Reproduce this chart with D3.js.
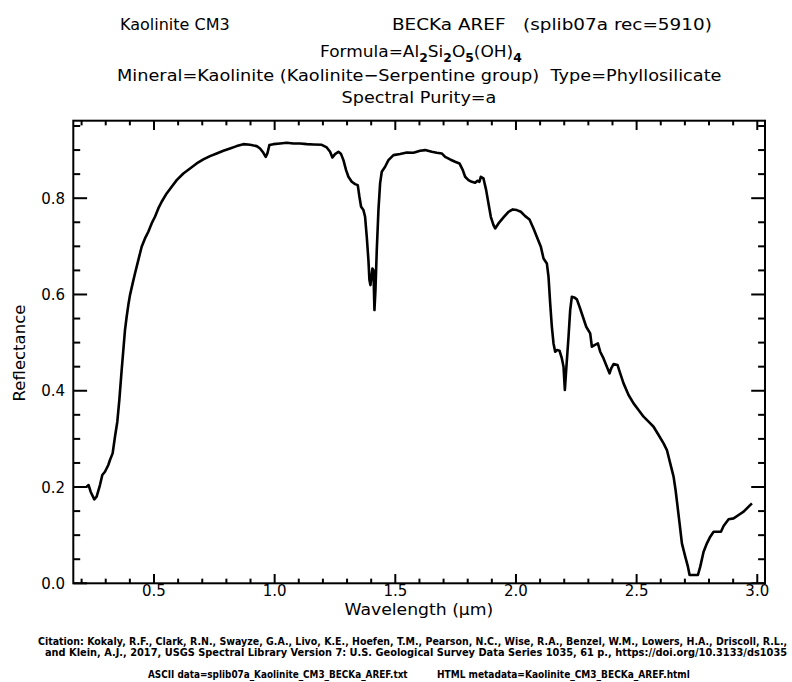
<!DOCTYPE html>
<html>
<head>
<meta charset="utf-8">
<script src="https://cdn.jsdelivr.net/npm/d3@7"></script>
<style>
  html, body { margin: 0; padding: 0; background: #fff; }
  svg { display: block; }
  text { font-family: "DejaVu Sans", sans-serif; fill: #000; }
</style>
</head>
<body>
<svg id="chart" width="792" height="682"></svg>
<script>
// ---- Data ----
const wavelength = [
  0.2208, 0.2291, 0.2374, 0.2526, 0.2623, 0.2761, 0.2858, 0.2968, 0.3107, 0.3176,
  0.3286, 0.3383, 0.3480, 0.3563, 0.3660, 0.3729, 0.3798, 0.3867, 0.3936, 0.4005,
  0.4116, 0.4212, 0.4350, 0.4489, 0.4627, 0.4765, 0.4903, 0.5041, 0.5180, 0.5318,
  0.5525, 0.5733, 0.5940, 0.6216, 0.6493, 0.6769, 0.7045, 0.7322, 0.7598, 0.7875,
  0.8151, 0.8427, 0.8704, 0.8980, 0.9257, 0.9395, 0.9533, 0.9630, 0.9699, 0.9782,
  0.9948, 1.0224, 1.0500, 1.0777, 1.1053, 1.1330, 1.1606, 1.1952, 1.2159, 1.2297,
  1.2394, 1.2504, 1.2642, 1.2753, 1.2850, 1.2960, 1.3057, 1.3195, 1.3333, 1.3444,
  1.3513, 1.3582, 1.3679, 1.3748, 1.3817, 1.3886, 1.3928, 1.3969, 1.4011, 1.4052,
  1.4094, 1.4135, 1.4177, 1.4232, 1.4301, 1.4370, 1.4439, 1.4577, 1.4715, 1.4923,
  1.5199, 1.5476, 1.5752, 1.6028, 1.6236, 1.6512, 1.6719, 1.6927, 1.7065, 1.7272,
  1.7479, 1.7659, 1.7797, 1.7894, 1.8032, 1.8170, 1.8309, 1.8405, 1.8488, 1.8543,
  1.8654, 1.8765, 1.8861, 1.8958, 1.9069, 1.9138, 1.9276, 1.9483, 1.9690, 1.9870,
  2.0036, 2.0202, 2.0382, 2.0561, 2.0727, 2.0893, 2.1031, 2.1142, 2.1280, 2.1349,
  2.1418, 2.1487, 2.1556, 2.1625, 2.1694, 2.1805, 2.1902, 2.1971, 2.2026, 2.2081,
  2.2178, 2.2247, 2.2316, 2.2413, 2.2524, 2.2634, 2.2773, 2.2911, 2.3076, 2.3146,
  2.3256, 2.3394, 2.3491, 2.3629, 2.3767, 2.3878, 2.3947, 2.4044, 2.4210, 2.4320,
  2.4458, 2.4666, 2.4873, 2.5080, 2.5288, 2.5495, 2.5702, 2.5910, 2.6117, 2.6255,
  2.6393, 2.6531, 2.6614, 2.6697, 2.6780, 2.6877, 2.7015, 2.7126, 2.7195, 2.7361,
  2.7540, 2.7637, 2.7775, 2.7913, 2.8052, 2.8190, 2.8356, 2.8494, 2.8604, 2.8812,
  2.9019, 2.9226, 2.9434, 2.9641, 2.9779
];
const reflectance = [
  0.2007, 0.2041, 0.1903, 0.1744, 0.1799, 0.2041, 0.2249, 0.2318, 0.2457, 0.2561,
  0.2699, 0.3045, 0.3357, 0.3807, 0.4430, 0.4845, 0.5261, 0.5537, 0.5780, 0.5987,
  0.6230, 0.6437, 0.6714, 0.6991, 0.7164, 0.7303, 0.7476, 0.7614, 0.7787, 0.7926,
  0.8099, 0.8237, 0.8376, 0.8514, 0.8618, 0.8722, 0.8805, 0.8874, 0.8930, 0.8985,
  0.9033, 0.9082, 0.9123, 0.9109, 0.9082, 0.9033, 0.8943, 0.8860, 0.8930, 0.9103,
  0.9123, 0.9137, 0.9151, 0.9137, 0.9137, 0.9123, 0.9116, 0.9109, 0.9054, 0.8964,
  0.8847, 0.8916, 0.8964, 0.8916, 0.8791, 0.8583, 0.8445, 0.8341, 0.8293, 0.8272,
  0.8030, 0.7822, 0.7753, 0.7614, 0.7199, 0.6714, 0.6299, 0.6195, 0.6368, 0.6541,
  0.6507, 0.5676, 0.6091, 0.6922, 0.7753, 0.8307, 0.8549, 0.8653, 0.8791, 0.8895,
  0.8920, 0.8950, 0.8944, 0.8985, 0.8999, 0.8964, 0.8944, 0.8930, 0.8860, 0.8805,
  0.8757, 0.8722, 0.8584, 0.8445, 0.8376, 0.8341, 0.8320, 0.8362, 0.8341, 0.8445,
  0.8410, 0.8168, 0.7891, 0.7614, 0.7441, 0.7372, 0.7476, 0.7600, 0.7718, 0.7767,
  0.7753, 0.7718, 0.7628, 0.7559, 0.7372, 0.7164, 0.6991, 0.6749, 0.6645, 0.6368,
  0.5814, 0.5330, 0.4984, 0.4811, 0.4845, 0.4831, 0.4672, 0.4499, 0.4015, 0.4430,
  0.5122, 0.5676, 0.5953, 0.5939, 0.5898, 0.5745, 0.5538, 0.5330, 0.5191, 0.4914,
  0.4949, 0.4984, 0.4811, 0.4672, 0.4499, 0.4361, 0.4465, 0.4555, 0.4534, 0.4361,
  0.4153, 0.3911, 0.3738, 0.3599, 0.3461, 0.3357, 0.3253, 0.3080, 0.2907, 0.2768,
  0.2492, 0.2215, 0.1938, 0.1592, 0.1246, 0.0830, 0.0553, 0.0346, 0.0172, 0.0172,
  0.0172, 0.0346, 0.0657, 0.0830, 0.0969, 0.1072, 0.1072, 0.1072, 0.1190, 0.1329,
  0.1349, 0.1419, 0.1488, 0.1592, 0.1661
];
const xTickLabels = ["0.5", "1.0", "1.5", "2.0", "2.5", "3.0"];
const yTickLabels = ["0.0", "0.2", "0.4", "0.6", "0.8"];
const xMinorTicks = [0.2,0.3,0.4,0.6,0.7,0.8,0.9,1.1,1.2,1.3,1.4,1.6,1.7,1.8,1.9,2.1,2.2,2.3,2.4,2.6,2.7,2.8,2.9];
const yMinorTicks = [0.05,0.1,0.15,0.25,0.3,0.35,0.45,0.5,0.55,0.65,0.7,0.75,0.85,0.9,0.95];
const xDomain = [0.1656, 3.032];
const yDomain = [0, 0.961];

// ---- Layout ----
const L = 73.3, R = 765, T = 120.7, B = 583.3;
const svg = d3.select("#chart");
const x = d3.scaleLinear().domain(xDomain).range([L, R]);
const y = d3.scaleLinear().domain(yDomain).range([B, T]);

const xMajor = xTickLabels.map(Number);
const yMajor = yTickLabels.map(Number);
const xLenMaj = 9.3, yLenMaj = 13.8;

// ticks (inward, on all four sides)
const tickG = svg.append("g").attr("stroke", "#000").attr("stroke-width", 2);
const xTicks = xMajor.map(v => ({v, len: xLenMaj})).concat(xMinorTicks.map(v => ({v, len: xLenMaj / 2})));
const yTicks = yMajor.map(v => ({v, len: yLenMaj})).concat(yMinorTicks.map(v => ({v, len: yLenMaj / 2})));
tickG.selectAll("line.xb").data(xTicks).join("line").attr("class", "xb")
  .attr("x1", d => x(d.v)).attr("x2", d => x(d.v)).attr("y1", B).attr("y2", d => B - d.len);
tickG.selectAll("line.xt").data(xTicks).join("line").attr("class", "xt")
  .attr("x1", d => x(d.v)).attr("x2", d => x(d.v)).attr("y1", T).attr("y2", d => T + d.len);
tickG.selectAll("line.yl").data(yTicks).join("line").attr("class", "yl")
  .attr("y1", d => y(d.v)).attr("y2", d => y(d.v)).attr("x1", L).attr("x2", d => L + d.len);
tickG.selectAll("line.yr").data(yTicks).join("line").attr("class", "yr")
  .attr("y1", d => y(d.v)).attr("y2", d => y(d.v)).attr("x1", R).attr("x2", d => R - d.len);

// tick labels
svg.append("g").selectAll("text").data(xTickLabels).join("text")
  .attr("x", d => x(+d)).attr("y", 595.5).attr("text-anchor", "middle").attr("font-size", 15).text(d => d);
svg.append("g").selectAll("text").data(yTickLabels).join("text")
  .attr("x", 65).attr("y", d => y(+d) + 5.5).attr("text-anchor", "end").attr("font-size", 15).text(d => d);

// frame
svg.append("rect").attr("x", L).attr("y", T).attr("width", R - L).attr("height", B - T)
  .attr("fill", "none").attr("stroke", "#000").attr("stroke-width", 2);

// curve
const line = d3.line().x((d, i) => x(wavelength[i])).y((d, i) => y(reflectance[i]));
svg.append("path").datum(reflectance).attr("d", line)
  .attr("fill", "none").attr("stroke", "#000").attr("stroke-width", 2.6)
  .attr("stroke-linejoin", "round");

// text helper: fits text to a target width by horizontal scaling
function fitText(s, x0, y0, size, width, opts = {}) {
  const t = svg.append("text").attr("x", 0).attr("y", 0).attr("font-size", size)
    .style("white-space", "pre").text(s);
  if (opts.weight) t.attr("font-weight", opts.weight);
  const w = t.node().getComputedTextLength();
  const k = width / w;
  const xs = opts.center ? x0 - width / 2 : x0;
  t.attr("transform", `translate(${xs},${y0}) scale(${k},1)`);
  return t;
}

svg.append("text").attr("x", 120).attr("y", 30).attr("font-size", 16).text("Kaolinite CM3");
fitText("BECKa AREF   (splib07a rec=5910)", 392, 30, 16, 320);

// formula with subscripts
const f = svg.append("text").attr("x", 0).attr("y", 0).attr("font-size", 16.5);
const parts = [["Formula=Al", 0], ["2", 1], ["Si", 0], ["2", 1], ["O", 0], ["5", 1], ["(OH)", 0], ["4", 1]];
let prevSub = false;
parts.forEach(([s, sub]) => {
  const ts = f.append("tspan").text(s);
  if (sub && !prevSub) ts.attr("dy", 5).attr("font-size", 12).attr("font-weight", "bold");
  if (!sub && prevSub) ts.attr("dy", -5);
  prevSub = !!sub;
});
{
  const fw = f.node().getBBox().width;
  const target = 202;
  f.attr("transform", `translate(${421 - target / 2},57) scale(${target / fw},1)`);
}

fitText("Mineral=Kaolinite (Kaolinite\u2212Serpentine group)  Type=Phyllosilicate", 117, 81, 16, 605);
fitText("Spectral Purity=a", 419, 103, 16, 155, {center: true});

// axis labels
fitText("Wavelength (\u03bcm)", 419, 615, 15.5, 149, {center: true});
svg.append("text").attr("transform", `translate(25,353) rotate(-90)`)
  .attr("text-anchor", "middle").attr("font-size", 16.5).text("Reflectance");

// citation
fitText("Citation: Kokaly, R.F., Clark, R.N., Swayze, G.A., Livo, K.E., Hoefen, T.M., Pearson, N.C., Wise, R.A., Benzel, W.M., Lowers, H.A., Driscoll, R.L.,",
    38, 645, 10.5, 750, {weight: "bold"});
fitText("and Klein, A.J., 2017, USGS Spectral Library Version 7: U.S. Geological Survey Data Series 1035, 61 p., https://doi.org/10.3133/ds1035",
    45, 656, 10.5, 743, {weight: "bold"});
fitText("ASCII data=splib07a_Kaolinite_CM3_BECKa_AREF.txt", 148, 678, 10, 260, {weight: "bold"});
fitText("HTML metadata=Kaolinite_CM3_BECKa_AREF.html", 437, 678, 10, 253, {weight: "bold"});
</script>
</body>
</html>
